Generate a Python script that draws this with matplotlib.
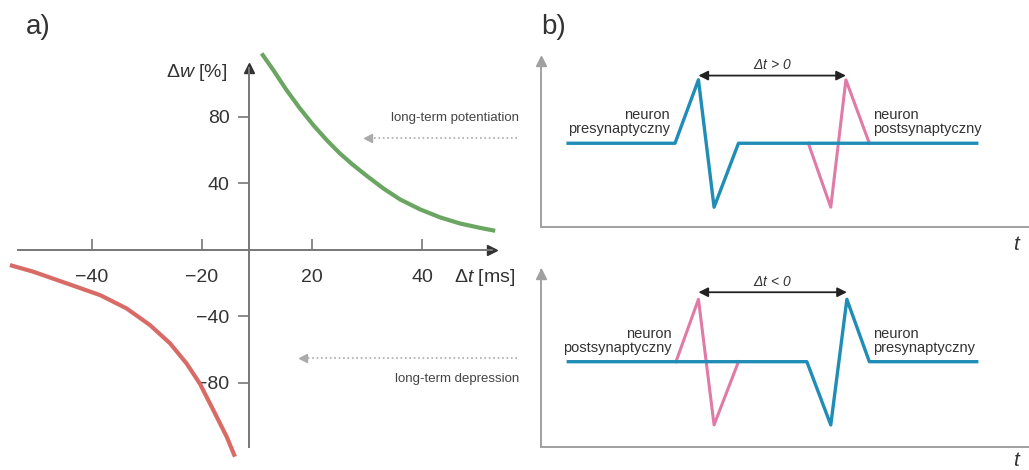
import matplotlib
matplotlib.use("Agg")
import matplotlib.pyplot as plt

plt.rcParams['font.family'] = ['Liberation Sans', 'DejaVu Sans']
plt.rcParams['mathtext.fontset'] = 'custom'
plt.rcParams['mathtext.it'] = 'Liberation Sans:italic'
plt.rcParams['mathtext.rm'] = 'Liberation Sans'

# panel a) - STDP curve (x in axis units, labels below are the printed ones)
ltp_dt = [0.85, 2.97, 5.39, 7.82, 10.24, 12.67, 15.09, 17.52, 19.94, 22.97, 26.0, 29.64, 33.27, 36.9, 40.5, 43.3]
ltp_dw = [118.0, 108.0, 95.9, 84.9, 74.9, 65.9, 57.8, 50.8, 44.4, 36.8, 30.2, 24.2, 19.4, 15.7, 13.1, 11.3]
ltd_dt = [-44.9, -40.67, -34.6, -28.5, -23.7, -19.45, -15.8, -12.8, -10.4, -7.94, -5.5, -4.0]
ltd_dw = [-9.3, -13.3, -20.3, -27.4, -35.4, -45.4, -56.4, -68.5, -80.5, -96.5, -112.6, -124.6]
xtick_pos = [-30, -10, 10, 30]
xtick_labels = ['\u221240', '\u221220', '20', '40']
ytick_pos = [-80, -40, 40, 80]
ytick_labels = ['\u221280', '\u221240', '40', '80']

# panel b) - spike schematics
top_pre_t = [5.6, 27.5, 32.3, 35.5, 40.5, 89.3]
top_pre_v = [49.5, 49.5, 87, 11.7, 49.5, 49.5]
top_post_t = [54.8, 59.4, 62.5, 67.3]
top_post_v = [49.5, 11.7, 87, 49.5]
bot_post_t = [27.7, 32.3, 35.5, 40.5]
bot_post_v = [48.1, 83.4, 12.3, 48.1]
bot_pre_t = [5.65, 54.5, 59.4, 62.7, 67.3, 89.3]
bot_pre_v = [48.1, 48.1, 12.3, 83.4, 48.1, 48.1]

GREEN = '#6aa562'
RED = '#d86b66'
BLUE = '#1f8db5'
PINK = '#e07aa6'
AXC = '#777777'
GREYAX = '#a0a0a0'
TXT = '#333333'

fig = plt.figure(figsize=(10.29, 4.70), dpi=100)

# ---- a)
ax = fig.add_axes([0.0, 0.0106, 0.5053, 0.904])
ax.set_xlim(-46.7, 47.8)
ax.set_ylim(-129.6, 126)
for s in ['top', 'right']:
    ax.spines[s].set_visible(False)
ax.spines['left'].set_position(('data', -1.45))
ax.spines['bottom'].set_position(('data', 0))
ax.spines['left'].set_bounds(-119, 109)
ax.spines['bottom'].set_bounds(-43.5, 42.7)
for s in ['left', 'bottom']:
    ax.spines[s].set_color(AXC)
    ax.spines[s].set_linewidth(1.4)
ax.set_facecolor('none')

ax.set_xticks(xtick_pos)
ax.set_xticklabels(xtick_labels)
ax.set_yticks(ytick_pos)
ax.set_yticklabels(ytick_labels)
ax.tick_params(axis='x', direction='in', length=8, width=1.2, color=AXC,
               pad=14, labelsize=14, labelcolor=TXT)
ax.tick_params(axis='y', direction='out', length=8, width=1.2, color=AXC,
               pad=6, labelsize=14, labelcolor=TXT)

ax.plot([-1.45], [109], marker='^', ms=7, color='#333333', clip_on=False)
ax.plot([42.7], [0], marker='>', ms=7, color='#333333', clip_on=False)

ax.plot(ltp_dt, ltp_dw, color=GREEN, lw=3, solid_capstyle='butt',
        solid_joinstyle='round', clip_on=False)
ax.plot(ltd_dt, ltd_dw, color=RED, lw=3, solid_capstyle='butt',
        solid_joinstyle='round', clip_on=False)

ax.text(-5.45, 106.8, '\u0394$\\mathit{w}$ [%]', ha='right', va='center', fontsize=14, color=TXT)
ax.text(35.8, -16.5, '\u0394$\\mathit{t}$ [ms]', ha='left', va='center', fontsize=14, color=TXT)


# ---- b)
def spike_axes(rect):
    b = fig.add_axes(rect)
    b.set_xlim(0, 100)
    b.set_ylim(0, 100)
    for s in ['top', 'right']:
        b.spines[s].set_visible(False)
    for s in ['left', 'bottom']:
        b.spines[s].set_color(GREYAX)
        b.spines[s].set_linewidth(1.4)
    b.set_xticks([])
    b.set_yticks([])
    b.set_facecolor('none')
    b.plot([0], [98], marker='^', ms=7, color=GREYAX, clip_on=False)
    return b


bt = spike_axes([0.5255, 0.517, 0.4745, 0.36])
bt.plot(top_post_t, top_post_v, color=PINK, lw=2.2)
bt.plot(top_pre_t, top_pre_v, color=BLUE, lw=2.4)
bt.annotate('', xy=(32.3, 89.5), xytext=(62.5, 89.5),
            arrowprops=dict(arrowstyle='<|-|>', color='#222222', lw=1.3,
                            mutation_scale=14, shrinkA=0, shrinkB=0))
bt.text(47.4, 95.5, '\u0394$\\mathit{t}$ > 0', ha='center', va='center',
        fontsize=10, style='italic', color=TXT)
bt.text(26.5, 61.8, 'neuron\npresynaptyczny', ha='right', va='center',
        fontsize=10.5, color=TXT, linespacing=1.0)
bt.text(68, 61.8, 'neuron\npostsynaptyczny', ha='left', va='center',
        fontsize=10.5, color=TXT, linespacing=1.0)

bb = spike_axes([0.5255, 0.0496, 0.4745, 0.376])
bb.plot(bot_post_t, bot_post_v, color=PINK, lw=2.2)
bb.plot(bot_pre_t, bot_pre_v, color=BLUE, lw=2.4)
bb.annotate('', xy=(32.3, 87.4), xytext=(62.7, 87.4),
            arrowprops=dict(arrowstyle='<|-|>', color='#222222', lw=1.3,
                            mutation_scale=14, shrinkA=0, shrinkB=0))
bb.text(47.5, 93.3, '\u0394$\\mathit{t}$ < 0', ha='center', va='center',
        fontsize=10, style='italic', color=TXT)
bb.text(26.8, 59.8, 'neuron\npostsynaptyczny', ha='right', va='center',
        fontsize=10.5, color=TXT, linespacing=1.0)
bb.text(68, 59.8, 'neuron\npresynaptyczny', ha='left', va='center',
        fontsize=10.5, color=TXT, linespacing=1.0)

# ---- labels and pointers over the whole figure (pixel coords)
ov = fig.add_axes([0, 0, 1, 1])
ov.set_xlim(0, 1029)
ov.set_ylim(470, 0)
ov.axis('off')

ov.text(26, 34, 'a)', fontsize=20, color=TXT, va='baseline')
ov.text(541, 34, 'b)', fontsize=20, color=TXT, va='baseline')
ov.text(1016, 244, 't', fontsize=15, style='italic', color=TXT, ha='center', va='center')
ov.text(1016, 460, 't', fontsize=15, style='italic', color=TXT, ha='center', va='center')

ov.text(519, 118, 'long-term potentiation', fontsize=9.5, color='#444444', ha='right', va='center')
ov.plot([517, 372], [138, 138], ls=':', color='#aaaaaa', lw=1.2)
ov.plot([368], [138], marker='<', ms=6, color='#aaaaaa')
ov.text(519, 379, 'long-term depression', fontsize=9.5, color='#444444', ha='right', va='center')
ov.plot([517, 307], [358, 358], ls=':', color='#aaaaaa', lw=1.2)
ov.plot([303], [358], marker='<', ms=6, color='#aaaaaa')

fig.savefig('out.png', dpi=100)
